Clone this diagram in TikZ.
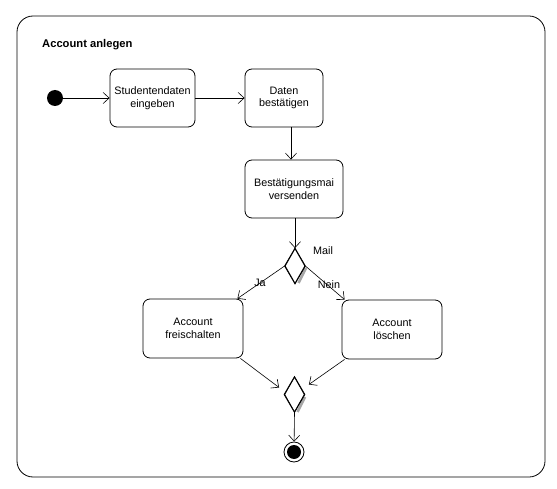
\documentclass[tikz,border=0pt]{standalone}
\usepackage{fontspec}
\setmainfont{Liberation Sans}
\usetikzlibrary{arrows.meta,shapes.geometric}
\begin{document}
\begin{tikzpicture}[x=1pt,y=-1pt,
  actbox/.style={draw,rounded corners=7pt,line width=0.8pt,inner sep=0pt,align=center,font=\fontsize{10.8}{12.5}\selectfont},
  decide/.style={draw,diamond,line width=0.8pt,inner sep=0pt,minimum width=20pt,minimum height=35pt},
  flow/.style={line width=0.6pt,-{Straight Barb[length=6pt,width=11pt]}},
  lbl/.style={font=\fontsize{10.8}{12.5}\selectfont,inner sep=0pt}]
\useasboundingbox (0,0) rectangle (557,489);
\draw[line width=0.8pt,rounded corners=16pt] (17,16) rectangle (545,477);
\node[anchor=west,font=\bfseries\fontsize{11.2}{13}\selectfont,inner sep=0pt] (title) at (42,45) {Account anlegen};
\node[circle,fill=black,minimum size=16pt,inner sep=0pt] (start) at (55,98) {};
\node[actbox,minimum width=85pt,minimum height=58pt] (b1) at (152.5,98) {Studentendaten\\eingeben};
\node[actbox,minimum width=78pt,minimum height=58pt] (b2) at (284,98) {Daten\\bestätigen};
\node[actbox,minimum width=98pt,minimum height=58pt] (b3) at (294,189) {Bestätigungsmai\\versenden};
\coordinate (v) at (291,0);
\node[decide] (d1) at (295,266) {};
\draw[gray!70,line width=2.5pt] (306,268) -- (298.5,283);
\draw[line width=0.8pt] (d1.north) -- (d1.east) -- (d1.south) -- (d1.west) -- cycle;
\node[lbl] (mail) at (323,251) {Mail};
\node[actbox,minimum width=100pt,minimum height=59pt] (b4) at (193,328.5) {Account\\freischalten};
\node[actbox,minimum width=100pt,minimum height=59pt] (b5) at (392,329.5) {Account\\löschen};
\node[decide] (d2) at (294.5,394.5) {};
\draw[gray!70,line width=2.5pt] (305,397) -- (297.5,412);
\draw[line width=0.8pt] (d2.north) -- (d2.east) -- (d2.south) -- (d2.west) -- cycle;
\node[circle,draw,line width=0.8pt,minimum size=20pt,inner sep=0pt] (end) at (294,452) {};
\node[circle,fill=black,minimum size=14pt,inner sep=0pt] (endin) at (end.center) {};
\node[lbl] (ja) at (260,283) {Ja};
\node[lbl] (nein) at (329,285) {Nein};
\draw[flow] (start) -- (b1);
\draw[flow] (b1) -- (b2);
\draw[flow] (v |- b2.south) -- (v |- b3.north);
\draw[flow] (b3.south -| d1) -- (d1.north);
\draw[flow] (d1.west) -- ([xshift=-6pt]b4.north east);
\draw[flow] (d1.east) -- ([xshift=3pt]b5.north west);
\draw[flow] ([xshift=-3pt]b4.south east) -- ([xshift=-5pt,yshift=7pt]d2.west);
\draw[flow] ([xshift=3pt]b5.south west) -- ([xshift=4pt,yshift=10pt]d2.east);
\draw[flow] (d2.south) -- (end);
\end{tikzpicture}
\end{document}
